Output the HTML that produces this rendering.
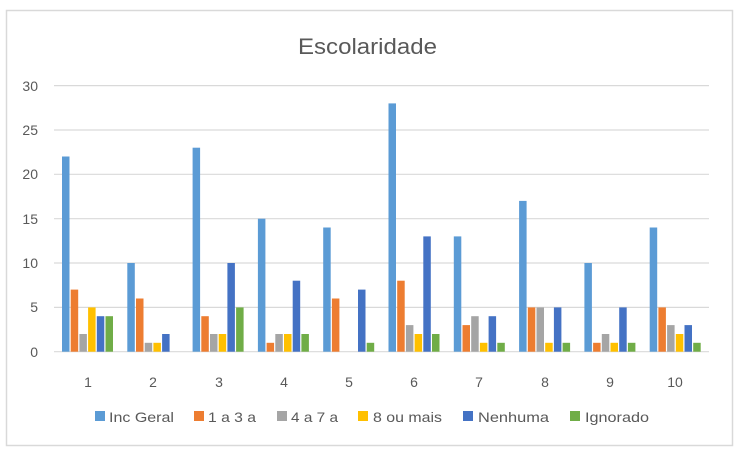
<!DOCTYPE html>
<html><head><meta charset="utf-8"><style>
html,body{margin:0;padding:0;background:#fff;}
svg{display:block;font-family:"Liberation Sans",sans-serif;}
</style></head><body>
<svg width="743" height="456" viewBox="0 0 743 456" xmlns="http://www.w3.org/2000/svg">
<rect x="0" y="0" width="743" height="456" fill="#fff"/>
<rect x="6.5" y="10.5" width="726" height="435" fill="#fff" stroke="#d9d9d9" stroke-width="1.5"/>
<text x="298" y="54" font-size="22" fill="#595959" textLength="139" lengthAdjust="spacingAndGlyphs">Escolaridade</text>
<g stroke="#d9d9d9" stroke-width="1.2">
<line x1="54" x2="709" y1="85.6" y2="85.6"/>
<line x1="54" x2="709" y1="130" y2="130"/>
<line x1="54" x2="709" y1="174.3" y2="174.3"/>
<line x1="54" x2="709" y1="218.7" y2="218.7"/>
<line x1="54" x2="709" y1="263" y2="263"/>
<line x1="54" x2="709" y1="307.4" y2="307.4"/>
<line x1="54" x2="709" y1="351.7" y2="351.7"/>
</g>
<g font-size="14" fill="#595959" text-anchor="end">
<text x="38" y="91">30</text><text x="38" y="135">25</text><text x="38" y="179">20</text>
<text x="38" y="224">15</text><text x="38" y="268">10</text><text x="38" y="312">5</text><text x="38" y="357">0</text>
</g>
<g id="bars"></g>
<g font-size="14" fill="#595959" text-anchor="middle">
<text x="88" y="387">1</text><text x="153" y="387">2</text><text x="219" y="387">3</text><text x="284" y="387">4</text><text x="349" y="387">5</text><text x="414" y="387">6</text><text x="479" y="387">7</text><text x="545" y="387">8</text><text x="610" y="387">9</text><text x="675" y="387">10</text>
</g>
<g font-size="14" fill="#595959">
<rect x="95" y="411" width="10" height="10" fill="#5b9bd5"/><text x="109" y="422" textLength="65" lengthAdjust="spacingAndGlyphs">Inc Geral</text>
<rect x="194" y="411" width="10" height="10" fill="#ed7d31"/><text x="208" y="422" textLength="48" lengthAdjust="spacingAndGlyphs">1 a 3 a</text>
<rect x="277" y="411" width="10" height="10" fill="#a5a5a5"/><text x="291" y="422" textLength="47" lengthAdjust="spacingAndGlyphs">4 a 7 a</text>
<rect x="358" y="411" width="10" height="10" fill="#ffc000"/><text x="373" y="422" textLength="69" lengthAdjust="spacingAndGlyphs">8 ou mais</text>
<rect x="463" y="411" width="10" height="10" fill="#4472c4"/><text x="478" y="422" textLength="71" lengthAdjust="spacingAndGlyphs">Nenhuma</text>
<rect x="570" y="411" width="10" height="10" fill="#70ad47"/><text x="585" y="422" textLength="64" lengthAdjust="spacingAndGlyphs">Ignorado</text>
</g>
<g>
<!-- bars generated inline -->
<rect x="62.0" y="156.5" width="7.5" height="195.2" fill="#5b9bd5"/><rect x="70.7" y="289.6" width="7.5" height="62.1" fill="#ed7d31"/><rect x="79.4" y="334.0" width="7.5" height="17.7" fill="#a5a5a5"/><rect x="88.1" y="307.4" width="7.5" height="44.3" fill="#ffc000"/><rect x="96.8" y="316.2" width="7.5" height="35.5" fill="#4472c4"/><rect x="105.5" y="316.2" width="7.5" height="35.5" fill="#70ad47"/>
<rect x="127.3" y="263.0" width="7.5" height="88.7" fill="#5b9bd5"/><rect x="136.0" y="298.5" width="7.5" height="53.2" fill="#ed7d31"/><rect x="144.7" y="342.8" width="7.5" height="8.9" fill="#a5a5a5"/><rect x="153.4" y="342.8" width="7.5" height="8.9" fill="#ffc000"/><rect x="162.1" y="334.0" width="7.5" height="17.7" fill="#4472c4"/>
<rect x="192.6" y="147.7" width="7.5" height="204.0" fill="#5b9bd5"/><rect x="201.3" y="316.2" width="7.5" height="35.5" fill="#ed7d31"/><rect x="210.0" y="334.0" width="7.5" height="17.7" fill="#a5a5a5"/><rect x="218.7" y="334.0" width="7.5" height="17.7" fill="#ffc000"/><rect x="227.4" y="263.0" width="7.5" height="88.7" fill="#4472c4"/><rect x="236.1" y="307.4" width="7.5" height="44.3" fill="#70ad47"/>
<rect x="257.9" y="218.7" width="7.5" height="133.0" fill="#5b9bd5"/><rect x="266.6" y="342.8" width="7.5" height="8.9" fill="#ed7d31"/><rect x="275.3" y="334.0" width="7.5" height="17.7" fill="#a5a5a5"/><rect x="284.0" y="334.0" width="7.5" height="17.7" fill="#ffc000"/><rect x="292.7" y="280.7" width="7.5" height="71.0" fill="#4472c4"/><rect x="301.4" y="334.0" width="7.5" height="17.7" fill="#70ad47"/>
<rect x="323.2" y="227.5" width="7.5" height="124.2" fill="#5b9bd5"/><rect x="331.9" y="298.5" width="7.5" height="53.2" fill="#ed7d31"/><rect x="358.0" y="289.6" width="7.5" height="62.1" fill="#4472c4"/><rect x="366.7" y="342.8" width="7.5" height="8.9" fill="#70ad47"/>
<rect x="388.5" y="103.4" width="7.5" height="248.3" fill="#5b9bd5"/><rect x="397.2" y="280.7" width="7.5" height="71.0" fill="#ed7d31"/><rect x="405.9" y="325.1" width="7.5" height="26.6" fill="#a5a5a5"/><rect x="414.6" y="334.0" width="7.5" height="17.7" fill="#ffc000"/><rect x="423.3" y="236.4" width="7.5" height="115.3" fill="#4472c4"/><rect x="432.0" y="334.0" width="7.5" height="17.7" fill="#70ad47"/>
<rect x="453.8" y="236.4" width="7.5" height="115.3" fill="#5b9bd5"/><rect x="462.5" y="325.1" width="7.5" height="26.6" fill="#ed7d31"/><rect x="471.2" y="316.2" width="7.5" height="35.5" fill="#a5a5a5"/><rect x="479.9" y="342.8" width="7.5" height="8.9" fill="#ffc000"/><rect x="488.6" y="316.2" width="7.5" height="35.5" fill="#4472c4"/><rect x="497.3" y="342.8" width="7.5" height="8.9" fill="#70ad47"/>
<rect x="519.1" y="200.9" width="7.5" height="150.8" fill="#5b9bd5"/><rect x="527.8" y="307.4" width="7.5" height="44.3" fill="#ed7d31"/><rect x="536.5" y="307.4" width="7.5" height="44.3" fill="#a5a5a5"/><rect x="545.2" y="342.8" width="7.5" height="8.9" fill="#ffc000"/><rect x="553.9" y="307.4" width="7.5" height="44.3" fill="#4472c4"/><rect x="562.6" y="342.8" width="7.5" height="8.9" fill="#70ad47"/>
<rect x="584.4" y="263.0" width="7.5" height="88.7" fill="#5b9bd5"/><rect x="593.1" y="342.8" width="7.5" height="8.9" fill="#ed7d31"/><rect x="601.8" y="334.0" width="7.5" height="17.7" fill="#a5a5a5"/><rect x="610.5" y="342.8" width="7.5" height="8.9" fill="#ffc000"/><rect x="619.2" y="307.4" width="7.5" height="44.3" fill="#4472c4"/><rect x="627.9" y="342.8" width="7.5" height="8.9" fill="#70ad47"/>
<rect x="649.7" y="227.5" width="7.5" height="124.2" fill="#5b9bd5"/><rect x="658.4" y="307.4" width="7.5" height="44.3" fill="#ed7d31"/><rect x="667.1" y="325.1" width="7.5" height="26.6" fill="#a5a5a5"/><rect x="675.8" y="334.0" width="7.5" height="17.7" fill="#ffc000"/><rect x="684.5" y="325.1" width="7.5" height="26.6" fill="#4472c4"/><rect x="693.2" y="342.8" width="7.5" height="8.9" fill="#70ad47"/>
</g>
</svg>
</body></html>
